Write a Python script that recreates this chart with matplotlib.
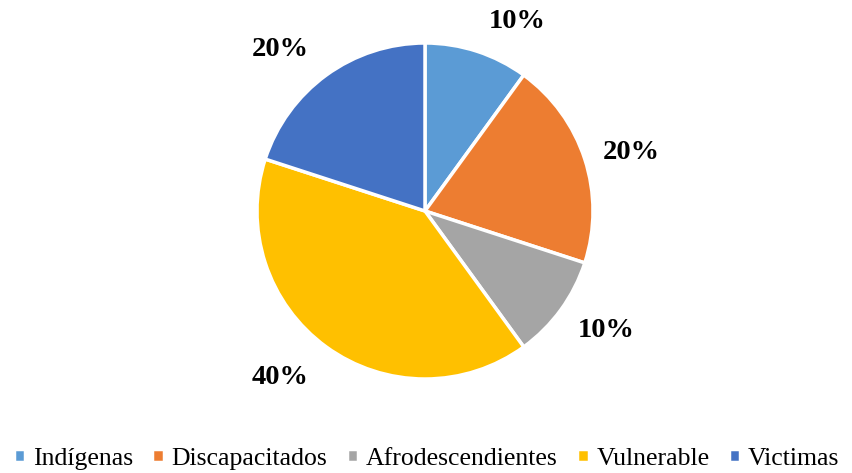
import matplotlib.pyplot as plt

categories = ["Indígenas", "Discapacitados", "Afrodescendientes", "Vulnerable", "Victimas"]
values = [10, 20, 10, 40, 20]
colors = ["#5B9BD5", "#ED7D31", "#A5A5A5", "#FFC000", "#4472C4"]
# label positions in pie-radius units (outside end, as in the reference)
label_pos = [(0.55, 1.13), (1.23, 0.35), (1.08, -0.71), (-0.86, -0.99), (-0.86, 0.96)]

fig = plt.figure(figsize=(8.53, 4.73), dpi=100)
# pie centre ~ (425, 211) px, radius ~168 px
ax = fig.add_axes([(425 - 168) / 853, 1 - (211 + 168) / 473, 336 / 853, 336 / 473])

wedges, texts, autotexts = ax.pie(
    values, colors=colors, startangle=90, counterclock=False,
    autopct="%d%%", pctdistance=1.29, radius=1,
    wedgeprops=dict(edgecolor="white", linewidth=2.5),
    textprops=dict(family="Liberation Serif", fontsize=20.5, fontweight="bold", color="black"),
)
for t, pos in zip(autotexts, label_pos):
    t.set_position(pos)
ax.set_xlim(-1, 1)
ax.set_ylim(-1, 1)
ax.set_aspect("equal")

fig.legend(wedges, categories, loc="lower center", bbox_to_anchor=(0.5, -0.042), ncol=5,
           frameon=False, handlelength=0.45, handleheight=0.45, handletextpad=0.3,
           columnspacing=0.75, prop=dict(family="Liberation Serif", size=18.5))

fig.savefig("out.png", dpi=100)
